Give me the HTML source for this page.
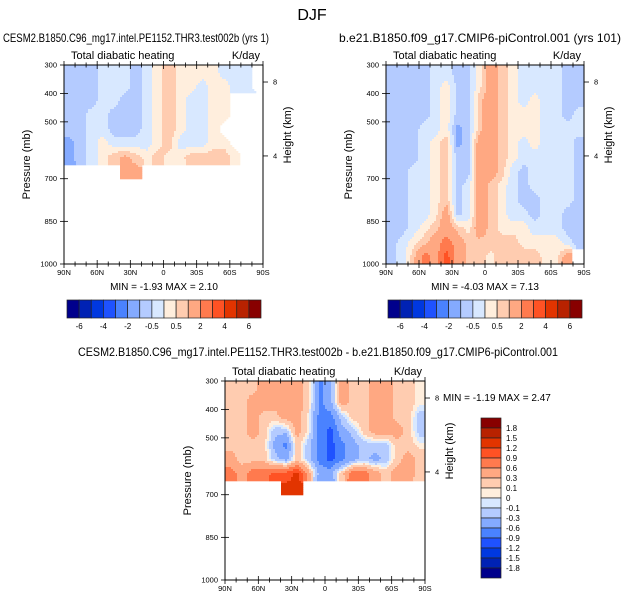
<!DOCTYPE html>
<html><head><meta charset="utf-8"><style>
html,body{margin:0;padding:0;background:#fff;}
svg{display:block;font-family:"Liberation Sans",sans-serif;}
</style></head><body>
<svg id="fig" width="624" height="602" viewBox="0 0 624 602" xmlns="http://www.w3.org/2000/svg">
<text x="312" y="20" font-size="16" text-anchor="middle">DJF</text>
<text x="3" y="42" font-size="12" textLength="266" lengthAdjust="spacingAndGlyphs">CESM2.B1850.C96_mg17.intel.PE1152.THR3.test002b (yrs 1)</text>
<text x="339" y="42" font-size="12" textLength="282" lengthAdjust="spacingAndGlyphs">b.e21.B1850.f09_g17.CMIP6-piControl.001 (yrs 101)</text>
<text x="318" y="356" font-size="12" text-anchor="middle" textLength="480" lengthAdjust="spacingAndGlyphs">CESM2.B1850.C96_mg17.intel.PE1152.THR3.test002b - b.e21.B1850.f09_g17.CMIP6-piControl.001</text>
<g id="layer"></g>
</svg>
<script>
const colors = ["#00008c","#0022b4","#0038e0","#1f52ff","#4a82ff","#84aaff","#b4cbff","#d8e8ff","#ffeedd","#ffccb0","#ffa882","#ff7a4e","#ff5224","#e23400","#b82200","#880000"];
const levelsAbs = [-6,-5,-4,-3,-2,-1,-0.5,0,0.5,1,2,3,4,5,6];
const labelsAbs = ["-6","-4","-2","-0.5","0.5","2","4","6"];
const levelsDiff = [-1.8,-1.5,-1.2,-0.9,-0.6,-0.3,-0.1,0,0.1,0.3,0.6,0.9,1.2,1.5,1.8];
const labelsDiff = ["1.8","1.5","1.2","0.9","0.6","0.3","0.1","0","-0.1","-0.3","-0.6","-0.9","-1.2","-1.5","-1.8"];
const pressureEdges = [300,350,400,450,500,550,600,650,700,750,800,850,900,950,1000];
const lonEdges = [90,80,70,60,50,40,30,20,10,0,-10,-20,-30,-40,-50,-60,-70,-80,-90];
const pTicks = [300,400,500,700,850,1000];
const lonTicks = ["90N","60N","30N","0","30S","60S","90S"];
const N = null;
const data1 = [
[-0.7,-0.7,-0.7,-0.3,-0.3,-0.3,-0.7,-0.3,0.3,0.8,0.3,0.3,0.3,0.3,-0.3,-0.3,-0.3,-0.7],
[-0.7,-0.7,-0.7,-0.3,-0.3,-0.3,-0.7,-0.3,0.3,0.8,0.3,0.3,-0.3,0.3,0.3,-0.3,-0.3,-0.7],
[-0.7,-0.7,-0.7,-0.3,-0.3,-0.7,-0.7,-0.3,0.3,0.8,0.3,-0.3,-0.3,0.3,0.3,-0.3,-0.3,-0.3],
[-0.7,-0.7,-0.3,-0.3,-0.7,-0.7,-0.7,-0.3,0.3,0.8,0.3,-0.3,-0.3,0.3,0.3,-0.3,-0.3,-0.3],
[-0.7,-0.7,-0.3,-0.3,-0.7,-0.7,-0.7,-0.3,0.3,0.8,0.3,-0.3,-0.3,0.3,-0.3,-0.3,-0.3,-0.3],
[-1.2,-0.7,-0.3,0.3,-0.3,-0.3,-0.3,-0.3,0.3,0.8,-0.3,-0.3,-0.3,0.3,0.3,-0.3,-0.3,-0.3],
[-1.2,-0.7,-0.3,0.3,0.8,1.2,0.8,0.3,0.8,0.3,0.3,0.8,0.8,0.8,0.8,0.3,-0.3,-0.3],
[N,N,N,N,N,1.2,1.2,N,N,N,N,N,N,N,N,N,N,N],
[N,N,N,N,N,N,N,N,N,N,N,N,N,N,N,N,N,N],
[N,N,N,N,N,N,N,N,N,N,N,N,N,N,N,N,N,N],
[N,N,N,N,N,N,N,N,N,N,N,N,N,N,N,N,N,N],
[N,N,N,N,N,N,N,N,N,N,N,N,N,N,N,N,N,N],
[N,N,N,N,N,N,N,N,N,N,N,N,N,N,N,N,N,N],
[N,N,N,N,N,N,N,N,N,N,N,N,N,N,N,N,N,N]];
const data2 = [
[-0.7,-0.7,-0.7,-0.7,-0.3,-0.3,-0.7,-0.7,0.3,1.5,0.8,0.3,-0.3,-0.3,-0.3,-0.3,-0.7,-0.7],
[-0.7,-0.7,-0.7,-0.7,-0.3,0.3,-0.7,-0.7,0.3,1.5,0.8,0.3,-0.3,-0.3,-0.3,-0.3,-0.7,-0.7],
[-0.7,-0.7,-0.7,-0.7,-0.3,0.3,-0.7,-0.7,0.8,1.5,0.8,0.3,-0.3,0.3,-0.3,-0.3,-0.7,-0.7],
[-0.7,-0.7,-0.7,-0.7,-0.3,0.3,-0.7,-0.7,0.8,1.5,0.8,0.3,0.3,0.3,-0.3,-0.3,-0.7,-0.3],
[-0.7,-0.7,-0.7,-0.3,-0.3,0.3,-1.2,-0.7,0.8,1.5,0.8,0.3,0.3,0.3,-0.3,-0.3,-0.3,-0.3],
[-0.7,-0.7,-0.7,-0.3,0.3,0.8,-1.2,-0.7,1.5,1.5,0.8,0.3,-0.3,0.3,-0.3,-0.3,-0.3,-0.7],
[-0.7,-0.7,-0.7,-0.3,0.3,0.8,-0.7,-0.7,1.5,1.5,0.8,0.3,-0.3,-0.3,-0.3,-0.3,-0.3,-0.7],
[-0.7,-0.7,-0.3,-0.3,0.3,0.8,-0.7,-0.7,1.5,1.5,0.8,-0.3,-0.7,-0.3,-0.3,-0.3,-0.3,-0.7],
[-0.7,-0.7,-0.3,-0.3,0.3,0.8,-0.7,-0.3,1.5,0.8,0.3,-0.3,-0.7,-0.3,-0.3,-0.3,-0.3,-0.7],
[-0.7,-0.7,-0.3,-0.3,0.3,0.8,-0.7,-0.3,1.5,0.8,0.3,-0.3,-0.7,-0.7,-0.3,-0.3,-0.3,-0.7],
[-0.7,-0.7,-0.3,-0.3,0.3,1.5,-0.7,-0.3,1.5,0.8,0.3,-0.3,-0.3,-0.7,-0.3,-0.3,-0.7,-0.7],
[-0.7,-0.7,-0.3,0.3,0.8,1.5,0.8,0.3,1.5,0.8,0.3,0.3,0.3,-0.3,-0.3,-0.3,-0.7,-0.7],
[-0.7,-0.3,0.3,0.8,1.5,2.5,1.5,0.8,0.8,0.8,0.8,0.8,0.3,0.3,0.3,0.3,-0.3,-0.7],
[-0.7,-0.3,0.8,2.5,1.5,3.5,1.5,0.8,0.8,0.3,0.8,0.8,0.8,0.8,0.3,0.3,1.5,N]];
const data3 = [
[0.2,0.2,0.2,0.45,0.45,0.45,0.45,0.2,-0.7,-0.4,0.45,0.2,0.2,0.45,0.45,0.2,0.2,0.05],
[0.2,0.2,0.45,0.45,0.45,0.45,0.45,0.2,-0.7,-0.4,0.45,0.2,0.2,0.45,0.45,0.2,0.2,0.05],
[0.2,0.2,0.45,0.2,0.2,0.45,0.45,0.05,-0.7,-0.7,-0.2,0.2,0.2,0.45,0.45,0.2,0.2,-0.2],
[0.2,0.2,0.45,0.2,-0.2,-0.2,0.45,0.05,-0.7,-1.0,-0.4,-0.2,0.2,0.45,0.45,0.45,0.2,-0.2],
[0.2,0.2,0.2,0.2,-0.4,-0.7,0.2,-0.2,-0.7,-1.0,-0.7,-0.4,-0.2,-0.2,-0.2,0.2,0.2,0.05],
[0.45,0.2,0.2,0.2,-0.2,-0.4,0.2,-0.2,-0.7,-1.0,-0.7,-0.4,-0.2,-0.4,-0.2,0.2,0.45,0.2],
[0.75,0.45,0.75,0.75,1.0,1.0,1.3,0.45,-0.4,-0.4,0.2,0.75,0.75,0.45,0.2,0.45,0.45,0.2],
[N,N,N,N,N,1.3,1.3,N,N,N,N,N,N,N,N,N,N,N],
[N,N,N,N,N,N,N,N,N,N,N,N,N,N,N,N,N,N],
[N,N,N,N,N,N,N,N,N,N,N,N,N,N,N,N,N,N],
[N,N,N,N,N,N,N,N,N,N,N,N,N,N,N,N,N,N],
[N,N,N,N,N,N,N,N,N,N,N,N,N,N,N,N,N,N],
[N,N,N,N,N,N,N,N,N,N,N,N,N,N,N,N,N,N],
[N,N,N,N,N,N,N,N,N,N,N,N,N,N,N,N,N,N]];

const NS="http://www.w3.org/2000/svg";
const layer=document.getElementById('layer');
function mk(tag,attrs,parent,txt){const e=document.createElementNS(NS,tag);for(const k in attrs)e.setAttribute(k,attrs[k]);if(txt!==undefined)e.textContent=txt;(parent||layer).appendChild(e);return e;}
function colorFor(v,levels){let i=0;while(i<levels.length&&v>=levels[i])i++;return colors[i];}

function sample(data,lon,p){
  const nr=data.length,nc=data[0].length;
  const r0=Math.min(nr-1,Math.max(0,Math.floor((p-300)/50)));
  const c0=Math.min(nc-1,Math.max(0,Math.floor((90-lon)/10)));
  const base=data[r0][c0];
  if(base===null) return null;
  const fr=Math.min(nr-1,Math.max(0,(p-300)/50-0.5));
  const fc=Math.min(nc-1,Math.max(0,(90-lon)/10-0.5));
  const ra=Math.floor(fr),ca=Math.floor(fc),rb=Math.min(nr-1,ra+1),cb=Math.min(nc-1,ca+1);
  const tr=fr-ra,tc=fc-ca;
  const g=(r,c)=>{const v=data[r][c];return v===null?base:v;};
  return (g(ra,ca)*(1-tc)+g(ra,cb)*tc)*(1-tr)+(g(rb,ca)*(1-tc)+g(rb,cb)*tc)*tr;
}

function panel(name,x0,x1,y0,y1,data,levels){
  const g=mk('g',{});
  
  
  const xs=lon=>x0+(90-lon)/180*(x1-x0);
  const ys=p=>y0+(p-300)/700*(y1-y0);
  const step=2;
  for(let py=y0;py<y1;py+=step){
    let runStart=null,runColor=null;
    const p=300+(py+step/2-y0)/(y1-y0)*700;
    for(let px=x0;px<=x1;px+=step){
      let col=null;
      if(px<x1){const lon=90-(px+step/2-x0)/(x1-x0)*180;const v=sample(data,lon,p);if(v!==null)col=colorFor(v,levels);}
      if(col!==runColor){
        if(runColor!==null){const cell=mk('rect',{x:runStart,y:py,width:Math.min(px,x1)-runStart+0.3,height:Math.min(step,y1-py)+0.3,fill:runColor},g);
          
          }
        runStart=px;runColor=col;
      }
    }
  }
  const fr=mk('rect',{x:x0,y:y0,width:x1-x0,height:y1-y0,fill:'none',stroke:'#000','stroke-width':1},g);
  
  
  for(let l=90;l>=-90;l-=10){const x=xs(l);const big=l%30===0;
    mk('line',{x1:x,x2:x,y1:y0-(big?4:2.5),y2:y0+(big?4:2.5),stroke:'#000','stroke-width':0.8},g);
    mk('line',{x1:x,x2:x,y1:y1-(big?4:2.5),y2:y1+(big?4:2.5),stroke:'#000','stroke-width':0.8},g);}
  lonTicks.forEach((t,i)=>{const lab=mk('text',{x:xs(90-30*i),y:y1+11,'font-size':7.5,'text-anchor':'middle'},g,t);
    
    });
  pTicks.forEach(p=>{const y=ys(p);mk('line',{x1:x0-4,x2:x0+4,y1:y,y2:y,stroke:'#000','stroke-width':0.8},g);
    const lab=mk('text',{x:x0-7,y:y+2.5,'font-size':7.5,'text-anchor':'end'},g,String(p));
    
    });
  [[8,0.0855],[4,0.457]].forEach(([h,f])=>{const y=y0+f*(y1-y0);
    mk('line',{x1:x1,x2:x1+5,y1:y,y2:y,stroke:'#000','stroke-width':0.8},g);
    mk('text',{x:x1+10,y:y+2.5,'font-size':7.5},g,String(h));});
  const t1=mk('text',{x:x0+7,y:y0-6,'font-size':11},g,'Total diabatic heating');
  
  
  const t2=mk('text',{x:x1-3,y:y0-6,'font-size':11,'text-anchor':'end'},g,'K/day');
  
  
  const ya=mk('text',{transform:`translate(${x0-34},${(y0+y1)/2}) rotate(-90)`,'font-size':11,'text-anchor':'middle'},g,'Pressure (mb)');
  
  
  const yb=mk('text',{transform:`translate(${x1+28},${y0+70}) rotate(-90)`,'font-size':11,'text-anchor':'middle'},g,'Height (km)');
  
  
}
function hbar(name,x0,x1,y0,y1){
  const g=mk('g',{});
  
  
  const w=(x1-x0)/16;
  colors.forEach((c,i)=>{const b=mk('rect',{x:x0+i*w,y:y0,width:w,height:y1-y0,fill:c,stroke:'#222','stroke-width':0.7},g);
    
    });
  labelsAbs.forEach((t,i)=>{mk('text',{x:x0+(1+2*i)*w,y:y1+11,'font-size':8,'text-anchor':'middle'},g,t);});
}
panel('panel1-plot',64,263,65,264,data1,levelsAbs);
panel('panel2-plot',386,584,65,264,data2,levelsAbs);
panel('panel3-plot',225,425,381,580,data3,levelsDiff);
mk('text',{x:164,y:290,'font-size':10,'text-anchor':'middle'},layer,'MIN =  -1.93  MAX =   2.10');
mk('text',{x:485,y:290,'font-size':10,'text-anchor':'middle'},layer,'MIN =  -4.03  MAX =   7.13');
mk('text',{x:443,y:401,'font-size':10},layer,'MIN =  -1.19  MAX =   2.47');
hbar('colorbar-panel1',67,261,300,318);
hbar('colorbar-panel2',388,582,300,318);
(function(){
  const g=mk('g',{});
  
  
  const x0=481,x1=501,y0=418,y1=578,h=(y1-y0)/16;
  colors.slice().reverse().forEach((c,i)=>{const b=mk('rect',{x:x0,y:y0+i*h,width:x1-x0,height:h,fill:c,stroke:'#222','stroke-width':0.7},g);
    
    });
  labelsDiff.forEach((t,i)=>{mk('text',{x:x1+5,y:y0+(i+1)*h+3,'font-size':8},g,t);});
})();
</script>
</body></html>
